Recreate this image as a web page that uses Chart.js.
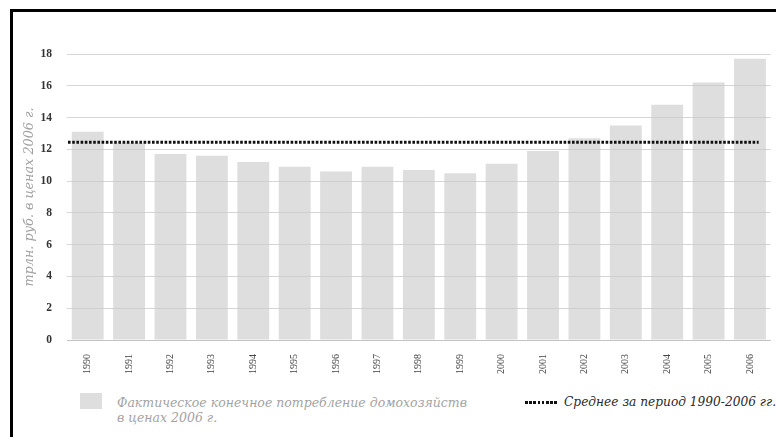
<!DOCTYPE html>
<html>
<head>
<meta charset="utf-8">
<script src="https://cdn.jsdelivr.net/npm/chart.js@4"></script>
<style>
  body { margin: 0; background: #fff; }
  #frame { position: absolute; left: 10px; top: 9px; width: 800px; height: 440px;
           border-left: 3px solid #000; border-top: 3px solid #000; }
  #wrap { position: absolute; left: 0; top: 0; width: 776px; height: 390px; }
  .lg { position: absolute; font-family: "DejaVu Serif", serif; font-style: italic; white-space: nowrap; }
</style>
</head>
<body>
<div id="frame"></div>
<div id="wrap"><canvas id="myChart"></canvas></div>

<!-- legend -->
<div style="position:absolute;left:80px;top:393px;width:22px;height:16px;background:#dedede;"></div>
<div class="lg" style="left:117px;top:395px;font-size:12.5px;line-height:15px;color:#a3a3a3;">Фактическое конечное потребление домохозяйств<br>в ценах 2006 г.</div>
<div style="position:absolute;left:525px;top:401px;width:32px;height:3px;background:repeating-linear-gradient(to right,#111 0 2.6px,transparent 2.6px 4.2px);"></div>
<div class="lg" style="left:564px;top:394px;font-size:12.2px;line-height:16px;color:#2a2a2a;">Среднее за период 1990-2006 гг.</div>

<script>
"use strict";

//data
const years = ['1990','1991','1992','1993','1994','1995','1996','1997','1998','1999',
               '2000','2001','2002','2003','2004','2005','2006'];

const consumption = [13.1, 12.4, 11.7, 11.6, 11.2, 10.9, 10.6, 10.9, 10.7, 10.5,
                     11.1, 11.9, 12.7, 13.5, 14.8, 16.2, 17.7]; //трлн. руб.

const meanValue = 12.45;   //среднее за 1990-2006

const yTicks = [0, 2, 4, 6, 8, 10, 12, 14, 16, 18];

//dotted mean line across the plot
const meanLine = {
    id: 'meanLine',
    afterDatasetsDraw(chart) {
        const ctx = chart.ctx;
        const area = chart.chartArea;
        const y = chart.scales.y.getPixelForValue(meanValue);
        ctx.save();
        ctx.strokeStyle = '#111';
        ctx.lineWidth = 3;
        ctx.setLineDash([2.6, 1.6]);
        ctx.beginPath();
        ctx.moveTo(area.left + 1, y);
        ctx.lineTo(area.right - 12, y);
        ctx.stroke();
        ctx.restore();
    }
};

const serif = '"Liberation Serif", serif';

const config = {
    type: 'bar',
    data: {
        labels: years,
        datasets: [{
            label: 'Фактическое конечное потребление домохозяйств в ценах 2006 г.',
            data: consumption,
            backgroundColor: 'rgba(200, 200, 200, 0.6)',
            borderWidth: 0,
            barPercentage: 0.77,
            categoryPercentage: 1
        }]
    },
    options: {
        responsive: true,
        maintainAspectRatio: false,
        animation: false,
        layout: {
            padding: { top: 54, right: 1, left: 0, bottom: 0 }
        },
        scales: {
            x: {
                grid: { display: false, drawTicks: false },
                border: { color: '#c4c4c4', width: 1 },
                ticks: {
                    minRotation: 90,
                    maxRotation: 90,
                    padding: 14,
                    color: '#444',
                    font: { family: serif, size: 10 }
                },
                afterFit(scale) { scale.height = 50; }
            },
            y: {
                min: 0,
                max: 18,
                afterBuildTicks(scale) { scale.ticks = yTicks.map(v => ({ value: v })); },
                grid: { color: '#d6d6d6', lineWidth: 1, drawTicks: false },
                border: { display: false },
                ticks: {
                    padding: 15,
                    color: '#333',
                    font: { family: serif, size: 11.5, weight: 'bold' }
                },
                title: {
                    display: true,
                    text: 'трлн. руб. в ценах 2006 г.',
                    color: '#a0a0a0',
                    padding: { top: 22, bottom: 0 },
                    font: { family: '"DejaVu Serif", serif', size: 12.8, style: 'italic' }
                },
                afterFit(scale) { scale.width = 67; }
            }
        },
        plugins: {
            legend: { display: false },
            tooltip: { enabled: false }
        }
    },
    plugins: [meanLine]
};

const myChart = new Chart(document.getElementById('myChart'), config);
</script>
</body>
</html>
